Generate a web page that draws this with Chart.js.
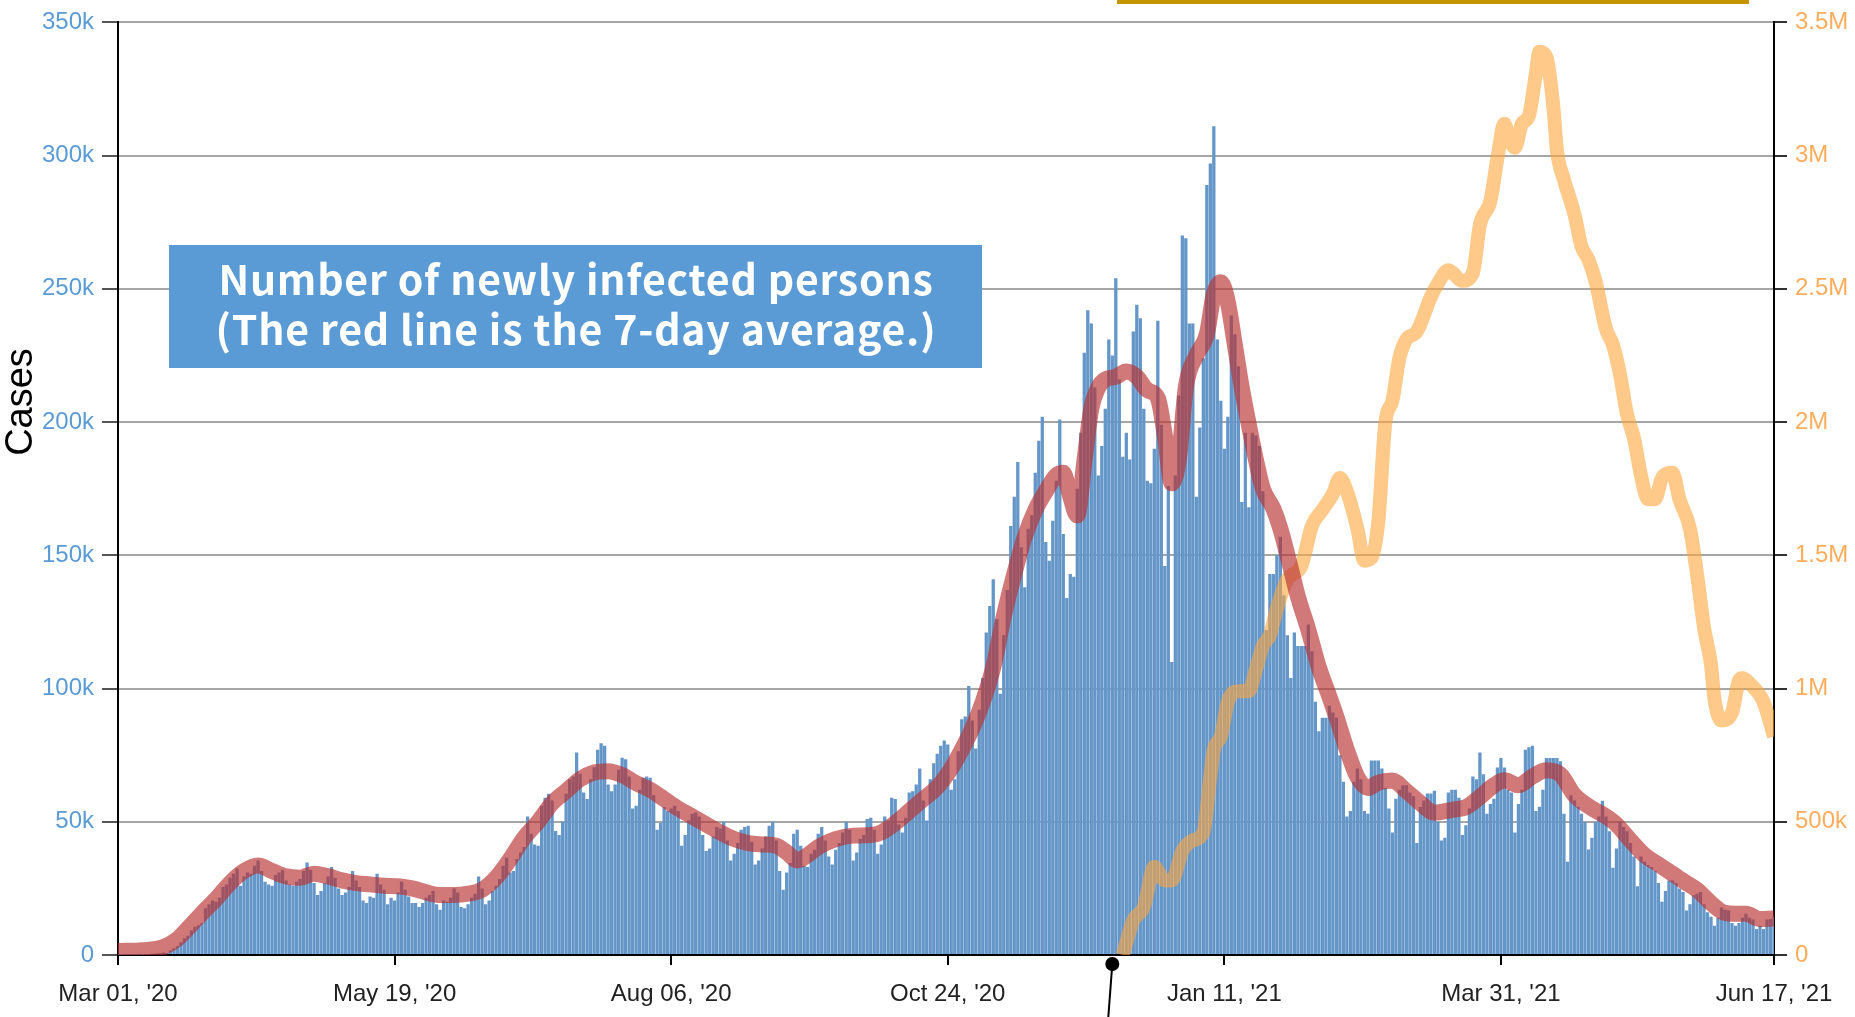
<!DOCTYPE html>
<html>
<head>
<meta charset="utf-8">
<script src="https://cdn.jsdelivr.net/npm/chart.js@4.4.1/dist/chart.umd.min.js"></script>
<style>
  html, body { margin: 0; padding: 0; background: #fff; }
  #wrap { position: relative; width: 1855px; height: 1017px; }
</style>
</head>
<body>
<div id="wrap"><canvas id="casesChart"></canvas></div>
<script>
// x axis is a day index counted from Mar 01 '20
const tickDays = [0, 79, 158, 237, 316, 395, 473];
const tickLabels = ["Mar 01, '20", "May 19, '20", "Aug 06, '20", "Oct 24, '20", "Jan 11, '21", "Mar 31, '21", "Jun 17, '21"];

// new cases per day (thousands), Mar 01 '20 .. Jun 17 '21, one row per week
const dailyCases = [
  0.02, 0.03, 0.05, 0.07, 0.09, 0.12, 0.16,
  0.12, 0.2, 0.3, 0.43, 0.52, 0.69, 0.96,
  0.75, 1.8, 2.5, 3.4, 4.8, 6.3, 7.3,
  9.3, 10.6, 11.2, 12.0, 17.5, 19.0, 20.5,
  20.0, 21.5, 25.5, 26.5, 29.0, 30.5, 32.5,
  26.0, 29.5, 31.0, 30.5, 33.5, 35.5, 31.5,
  27.5, 26.5, 26.0, 30.0, 31.0, 32.0, 28.0,
  26.5, 26.0, 27.5, 28.5, 31.5, 34.7, 32.0,
  27.0, 22.5, 24.0, 27.0, 29.5, 33.0, 29.0,
  25.0, 22.5, 23.5, 25.5, 31.5, 28.0, 25.5,
  20.5, 19.5, 22.0, 21.5, 30.5, 26.5, 24.5,
  19.0, 21.5, 20.5, 23.5, 27.5, 24.5, 22.0,
  19.5, 19.5, 18.0, 19.5, 21.5, 22.5, 24.0,
  19.0, 17.0, 20.5, 20.0, 21.5, 25.0, 23.5,
  18.0, 17.5, 19.0, 21.5, 23.0, 29.5, 25.0,
  19.0, 20.5, 24.0, 26.0, 28.5, 33.5, 36.5,
  31.0, 31.5, 36.0, 38.5, 40.5, 52.0, 45.5,
  41.5, 41.0, 56.0, 59.0, 60.5, 58.0, 46.5,
  45.0, 50.0, 60.5, 66.0, 67.0, 76.0, 68.0,
  61.0, 58.5, 66.0, 70.5, 77.0, 79.5, 78.5,
  64.0, 61.5, 64.0, 69.5, 74.0, 73.5, 67.0,
  55.0, 56.0, 62.0, 66.5, 67.0, 66.5, 60.0,
  47.0, 49.5, 55.5, 54.0, 55.0, 56.0, 54.0,
  41.0, 45.0, 50.5, 53.0, 53.5, 52.0, 45.0,
  39.0, 40.0, 44.5, 48.0, 47.5, 50.0, 43.0,
  35.5, 38.0, 42.0, 47.0, 48.0, 48.5, 42.5,
  34.0, 35.5, 40.0, 44.5, 48.5, 50.0, 43.0,
  31.5, 24.5, 31.0, 34.5, 45.5, 47.0, 41.0,
  33.5, 33.0, 38.0, 39.5, 45.5, 48.0, 43.0,
  37.0, 34.0, 39.5, 42.0, 46.0, 50.0, 47.0,
  35.5, 38.5, 43.5, 45.0, 51.0, 51.5, 47.0,
  38.0, 41.5, 52.0, 50.5, 59.0, 58.5, 49.0,
  46.0, 51.5, 61.0, 61.5, 64.0, 70.0, 58.0,
  50.5, 66.0, 72.0, 75.5, 78.5, 80.5, 79.0,
  62.0, 66.0, 76.5, 88.5, 89.5, 101.0, 88.0,
  77.5, 92.0, 104.0, 121.0, 131.0, 141.0, 126.0,
  98.0, 120.0, 137.0, 161.0, 172.0, 185.0, 153.0,
  138.0, 160.0, 165.0, 181.0, 193.0, 202.0, 155.0,
  148.0, 163.0, 178.0, 201.0, 158.0, 134.0, 143.0,
  142.0, 175.0, 196.0, 226.0, 242.0, 237.0, 213.0,
  180.0, 191.0, 205.0, 231.0, 225.0, 254.0, 216.0,
  187.0, 196.0, 186.0, 234.0, 244.0, 239.0, 205.0,
  178.0, 177.0, 190.0, 238.0, 199.0, 146.0, 176.0,
  110.0, 180.0, 210.0, 270.0, 269.0, 237.0, 237.0,
  172.0, 198.0, 224.0, 289.0, 297.0, 311.0, 231.0,
  208.0, 190.0, 202.0, 240.0, 233.0, 221.0, 170.0,
  196.0, 168.0, 196.0, 195.0, 191.0, 174.0, 122.0,
  143.0, 143.0, 150.0, 157.0, 135.0, 120.0, 104.0,
  121.0, 116.0, 116.0, 116.0, 124.0, 114.0, 95.0,
  84.0, 89.0, 89.0, 93.5, 91.0, 89.0, 75.0,
  65.0, 52.0, 54.0, 65.0, 70.0, 66.0, 54.0,
  53.0, 73.0, 73.0, 73.0, 70.0, 62.7, 55.0,
  46.0, 58.6, 62.0, 63.7, 63.7, 61.0, 59.6,
  42.0, 55.5, 58.0, 60.6, 60.6, 61.6, 50.0,
  43.0, 44.0, 61.0, 62.0, 62.0, 59.0, 45.0,
  48.7, 55.0, 67.0, 66.0, 76.0, 67.8, 53.0,
  56.7, 58.6, 70.4, 73.9, 70.4, 62.0, 61.0,
  46.0, 56.7, 62.0, 77.0, 78.0, 78.5, 54.0,
  55.6, 62.0, 73.9, 73.9, 73.9, 73.9, 72.7,
  53.0, 35.0, 60.0, 58.0, 55.6, 53.0, 50.0,
  39.6, 44.0, 50.0, 52.0, 57.9, 52.0, 46.4,
  32.7, 40.0, 50.0, 48.0, 46.4, 42.0, 37.0,
  25.8, 37.0, 35.0, 33.8, 33.0, 31.6, 27.0,
  20.0, 24.0, 28.0, 28.0, 27.0, 25.0, 23.6,
  16.7, 19.0, 22.4, 23.0, 23.6, 19.0, 16.0,
  14.4, 11.0, 14.0, 17.8, 17.0, 16.7, 12.0,
  11.0, 12.0, 14.0, 15.5, 14.0, 13.3, 9.8,
  11.0, 9.8, 13.3, 13.5, 14.4
];

// 7-day average (thousands)
const avgDays = [0, 7, 13, 17, 20, 24, 28, 32, 36, 40, 44, 48, 52, 56, 60, 64, 68, 72, 76, 80,
  84, 88, 92, 96, 100, 104, 108, 112, 116, 120, 124, 128, 132, 136, 140, 144, 148, 152, 156, 160,
  164, 168, 172, 176, 180, 184, 188, 191, 194, 197, 200, 205, 210, 215, 218, 222, 226, 230, 234, 238,
  241, 244, 247, 250, 253, 256, 259, 262, 265, 268, 270, 272, 274, 276, 278, 280, 282, 285, 288, 291,
  294, 297, 299, 301, 303, 305, 308, 311, 313, 315, 317, 319, 321, 323, 325, 327, 330, 332, 335, 337,
  340, 343, 346, 348, 351, 354, 357, 360, 364, 368, 372, 376, 381, 385, 389, 393, 396, 400, 404, 408,
  412, 416, 421, 425, 428, 432, 436, 440, 444, 448, 451, 455, 459, 462, 465, 469, 473];
const avgCases = [1.5, 1.8, 3, 6, 10, 15.7, 21, 27, 31.5, 33.6, 31.5, 29.5, 29, 30.5, 29.5, 28, 27, 26.5, 26, 25.8,
  25, 23.5, 22.5, 22.5, 23, 24.5, 29, 36, 44, 50, 57, 61.5, 66, 68.5, 69, 67.5, 64.5, 62, 58.5, 55,
  52, 49, 46, 43.5, 42, 41.5, 41, 38.5, 35.5, 37.5, 40.5, 43.5, 44.8, 45, 46, 49.5, 54, 58.5, 63, 70,
  77, 85, 95, 108, 127, 143, 157, 167, 174, 180, 181, 172, 165, 185, 205, 213, 216, 217, 219, 217,
  212, 209, 195, 177, 186, 213, 225, 233, 248, 252.5, 245, 229, 212.7, 199, 186, 175, 167.5, 160, 145, 134.6,
  122, 108, 97, 89.4, 77, 66.8, 62.7, 64.7, 65.5, 61.5, 57, 53.4, 54.5, 55.5, 59.3, 63.7, 65.6, 63.7, 67, 69.3,
  67.7, 60, 55, 52, 49, 43, 37.5, 34, 30.5, 27, 24.5, 19.5, 15.8, 15.5, 15.5, 13.5, 13.7];

// vaccine doses per day (millions), right axis
const vaxDays = [287, 290, 293, 296, 299, 301, 304, 307, 310, 312, 313, 315, 317, 320, 323, 325, 327, 329, 331, 334,
  338, 341, 344, 347, 349, 351, 354, 356, 358, 360, 362, 364, 366, 368, 371, 375, 377, 380, 384, 387,
  389, 392, 394, 396, 397, 399, 401, 403, 405, 406, 408, 410, 411, 413, 416, 418, 420, 422, 425, 427,
  429, 431, 433, 435, 437, 439, 441, 444, 446, 449, 451, 453, 455, 456, 458, 461, 463, 464, 466, 470, 473];
const vaxDoses = [0, 0.13, 0.18, 0.33, 0.28, 0.28, 0.39, 0.43, 0.46, 0.67, 0.77, 0.82, 0.95, 0.99, 0.99, 1.07, 1.16, 1.2, 1.3, 1.41,
  1.46, 1.61, 1.67, 1.73, 1.79, 1.74, 1.6, 1.48, 1.49, 1.63, 2.0, 2.08, 2.24, 2.31, 2.34, 2.47, 2.52, 2.57, 2.53, 2.56,
  2.74, 2.83, 2.99, 3.12, 3.08, 3.03, 3.12, 3.15, 3.31, 3.39, 3.37, 3.18, 3.02, 2.91, 2.78, 2.66, 2.61, 2.53, 2.35, 2.29,
  2.18, 2.03, 1.94, 1.8, 1.71, 1.71, 1.79, 1.81, 1.71, 1.6, 1.43, 1.23, 1.09, 0.96, 0.88, 0.91, 1.03, 1.04, 1.02, 0.95, 0.82];

const pinDay = 284;
const titleLines = ['Number of newly infected persons', '(The red line is the 7-day average.)'];

const tickFont = { family: '"Liberation Sans", Arial, sans-serif', size: 24 };

// title box, axis title, pin and the gold strip
const extras = {
  id: 'extras',
  afterDraw(chart) {
    const { ctx, chartArea, scales } = chart;
    ctx.save();

    ctx.fillStyle = '#c49500';
    ctx.fillRect(1117, 0, 632, 4);

    ctx.fillStyle = '#5b9bd5';
    ctx.fillRect(169, 245, 813, 123);
    ctx.fillStyle = '#fff';
    ctx.textAlign = 'center';
    ctx.textBaseline = 'alphabetic';
    ctx.font = 'bold 41px "Noto Sans CJK JP", "Noto Sans", sans-serif';
    ctx.letterSpacing = '0.8px';
    ctx.fillText(titleLines[0], 576, 295);
    ctx.fillText(titleLines[1], 576, 345);
    ctx.letterSpacing = '0px';

    ctx.translate(22, 402);
    ctx.rotate(-Math.PI / 2);
    ctx.fillStyle = '#000';
    ctx.textBaseline = 'middle';
    ctx.font = '38px "Liberation Sans", Arial, sans-serif';
    ctx.fillText('Cases', 0, 0);
    ctx.setTransform(1, 0, 0, 1, 0, 0);

    const px = scales.x.getPixelForValue(pinDay);
    const py = chartArea.bottom + 9;
    ctx.strokeStyle = '#000';
    ctx.lineWidth = 2;
    ctx.beginPath();
    ctx.moveTo(px, py);
    ctx.lineTo(px - 4, chart.height);
    ctx.stroke();
    ctx.fillStyle = '#000';
    ctx.beginPath();
    ctx.arc(px, py, 7, 0, Math.PI * 2);
    ctx.fill();
    ctx.restore();
  }
};

const ctx = document.getElementById('casesChart').getContext('2d');
const casesChart = new Chart(ctx, {
  type: 'bar',
  data: {
    datasets: [
      {
        type: 'line',
        label: '7-day average',
        data: avgDays.map((d, i) => ({ x: d, y: avgCases[i] })),
        borderColor: 'rgba(185, 50, 50, 0.66)',
        borderWidth: 16,
        pointRadius: 0,
        cubicInterpolationMode: 'monotone',
        yAxisID: 'y',
        order: 0
      },
      {
        type: 'line',
        label: 'Vaccine doses',
        data: vaxDays.map((d, i) => ({ x: d, y: vaxDoses[i] })),
        borderColor: 'rgba(255, 165, 60, 0.6)',
        borderWidth: 14,
        pointRadius: 0,
        cubicInterpolationMode: 'monotone',
        yAxisID: 'y2',
        order: 1
      },
      {
        label: 'New cases',
        data: dailyCases.map((v, i) => ({ x: i, y: v })),
        backgroundColor: 'rgb(100, 150, 200)',
        barPercentage: 0.94,
        categoryPercentage: 1,
        yAxisID: 'y',
        order: 2
      }
    ]
  },
  options: {
    responsive: true,
    maintainAspectRatio: false,
    animation: false,
    layout: { padding: { top: 18, left: 0, right: 0, bottom: 0 } },
    plugins: { legend: { display: false }, tooltip: { enabled: false } },
    scales: {
      x: {
        type: 'linear',
        min: 0,
        max: 473,
        offset: false,
        afterBuildTicks: (s) => { s.ticks = tickDays.map(v => ({ value: v })); },
        afterFit: (s) => { s.height = 62; },
        ticks: {
          autoSkip: false,
          maxRotation: 0,
          padding: 15,
          color: '#222',
          font: tickFont,
          callback: (v) => tickLabels[tickDays.indexOf(v)]
        },
        grid: { offset: false, drawOnChartArea: false, tickLength: 10, color: '#000', lineWidth: 2 },
        border: { color: '#000', width: 2 }
      },
      y: {
        position: 'left',
        min: 0,
        max: 350,
        afterFit: (s) => { s.width = 118; },
        ticks: {
          stepSize: 50,
          padding: 8,
          color: '#5b9bd5',
          font: tickFont,
          callback: (v) => v === 0 ? '0' : v + 'k'
        },
        grid: { color: '#a6a6a6', lineWidth: 2, tickLength: 16, tickColor: '#555' },
        border: { color: '#000', width: 2 }
      },
      y2: {
        position: 'right',
        min: 0,
        max: 3.5,
        afterFit: (s) => { s.width = 81; },
        ticks: {
          stepSize: 0.5,
          padding: 8,
          color: '#ffad5c',
          font: tickFont,
          callback: (v) => v === 0 ? '0' : (v < 1 ? v * 1000 + 'k' : v + 'M')
        },
        grid: { drawOnChartArea: false, lineWidth: 2, tickLength: 13, color: '#333' },
        border: { color: '#000', width: 2 }
      }
    }
  },
  plugins: [extras]
});
</script>
</body>
</html>
